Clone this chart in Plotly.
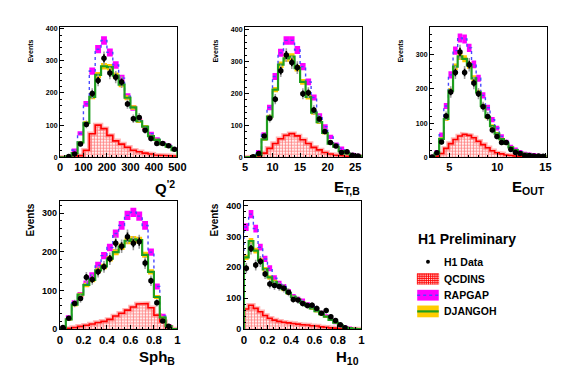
import numpy as np
import plotly.graph_objects as go

W, H = 567, 384
FONT = "Liberation Sans, Arial, Helvetica, sans-serif"

# ---------------- data ----------------
# Q'^2
q2_edges = np.arange(0, 525, 25)
q2_data    = [0, 2, 10, 41, 102, 198, 239, 308, 262, 249, 234, 166, 120, 124, 84, 58, 43, 43, 36, 25]
q2_djangoh = [0, 3, 13, 46, 107, 188, 256, 283, 280, 254, 226, 185, 155, 112, 95, 66, 54, 41, 33, 22]
q2_rapgap  = [0, 2, 22, 74, 166, 268, 336, 363, 326, 287, 246, 190, 153, 114, 92, 73, 56, 43, 36, 25]
q2_qcdins  = [0, 0, 1, 5, 22, 73, 100, 89, 68, 51, 41, 31, 22, 17, 13, 10, 7, 6, 5, 4]

# E_T,B
etb_edges = np.arange(5, 27, 1)
etb_data    = [0, 2, 12, 67, 122, 182, 271, 320, 297, 281, 199, 202, 148, 120, 81, 46, 35, 15, 17, 6, 4]
etb_djangoh = [0, 2, 7, 56, 127, 212, 290, 310, 315, 279, 236, 189, 140, 110, 76, 43, 33, 19, 12, 7, 5]
etb_rapgap  = [0, 2, 17, 72, 156, 253, 327, 366, 366, 336, 284, 236, 187, 130, 96, 64, 40, 28, 15, 9, 6]
etb_qcdins  = [0, 0, 2, 13, 28, 43, 58, 69, 74, 67, 55, 43, 31, 23, 15, 10, 7, 5, 4, 3, 2]

# E_OUT
eout_edges = np.linspace(3, 15, 26)
eout_data    = [1, 13, 45, 121, 191, 248, 308, 248, 271, 217, 186, 148, 119, 80, 61, 43, 43, 23, 14, 11, 5, 5, 4, 4, 3]
eout_djangoh = [2, 11, 54, 112, 195, 265, 295, 288, 269, 231, 190, 150, 117, 91, 69, 53, 40, 29, 21, 14, 10, 8, 6, 5, 4]
eout_rapgap  = [2, 16, 66, 150, 241, 312, 349, 346, 320, 272, 231, 181, 145, 110, 85, 61, 45, 31, 23, 16, 11, 9, 7, 5, 4]
eout_qcdins  = [0, 3, 11, 26, 40, 52, 62, 67, 64, 57, 47, 37, 28, 19, 13, 10, 7, 5, 4, 3, 2, 2, 1, 1, 1]

# Sph_B
sph_edges = np.linspace(0, 1, 21)
sph_data    = [4, 28, 66, 79, 134, 128, 148, 161, 182, 222, 214, 239, 222, 226, 171, 125, 68, 21, 7, 0]
sph_djangoh = [2, 25, 63, 89, 114, 127, 152, 162, 182, 199, 213, 228, 232, 230, 192, 148, 83, 30, 8, 0]
sph_rapgap  = [2, 30, 68, 89, 118, 139, 165, 190, 211, 247, 268, 294, 302, 292, 268, 199, 110, 34, 8, 0]
sph_qcdins  = [0, 2, 4, 7, 10, 13, 17, 20, 25, 34, 41, 49, 57, 65, 66, 55, 36, 19, 4, 0]

# H_10
h10_edges = np.linspace(0, 1, 26)
h10_data    = [197, 261, 207, 219, 178, 146, 141, 138, 132, 119, 96, 94, 83, 76, 77, 67, 51, 60, 40, 28, 14, 4, 0, 0, 0]
h10_djangoh = [232, 285, 254, 222, 193, 167, 153, 140, 129, 116, 104, 95, 85, 76, 67, 58, 48, 40, 30, 21, 13, 6, 3, 1, 0]
h10_rapgap  = [330, 372, 325, 265, 227, 197, 165, 148, 138, 122, 106, 97, 92, 81, 74, 63, 53, 42, 32, 21, 13, 7, 3, 1, 0]
h10_qcdins  = [65, 77, 67, 56, 44, 35, 29, 25, 22, 20, 18, 16, 14, 13, 11, 10, 7, 6, 4, 3, 2, 1, 0, 0, 0]

legend_labels = ["H1 Data", "QCDINS", "RAPGAP", "DJANGOH"]

# ---------------- styling / layout ----------------
panels = [
    dict(edges=q2_edges, data=q2_data, dj=q2_djangoh, rg=q2_rapgap, qi=q2_qcdins,
         box=(50, 170, 17, 150), xr=[0, 500], yr=[0, 406], xt0=0, xdt=100, xmdt=20,
         title="Q<sup>'2</sup>", row=1),
    dict(edges=etb_edges, data=etb_data, dj=etb_djangoh, rg=etb_rapgap, qi=etb_qcdins,
         box=(239, 359, 17, 150), xr=[5, 26.3], yr=[0, 409], xt0=5, xdt=5, xmdt=1,
         title="E<sub>T,B</sub>", row=1),
    dict(edges=eout_edges, data=eout_data, dj=eout_djangoh, rg=eout_rapgap, qi=eout_qcdins,
         box=(428, 548, 17, 150), xr=[3, 15.2], yr=[0, 382], xt0=5, xdt=5, xmdt=1,
         title="E<sub>OUT</sub>", row=1),
    dict(edges=sph_edges, data=sph_data, dj=sph_djangoh, rg=sph_rapgap, qi=sph_qcdins,
         box=(50, 170, 195, 325), xr=[0, 1], yr=[0, 330], xt0=0, xdt=0.2, xmdt=0.05,
         title="Sph<sub>B</sub>", row=2),
    dict(edges=h10_edges, data=h10_data, dj=h10_djangoh, rg=h10_rapgap, qi=h10_qcdins,
         box=(238, 358, 195, 325), xr=[0, 1], yr=[0, 413], xt0=0, xdt=0.2, xmdt=0.05,
         title="H<sub>10</sub>", row=2),
]

MAGENTA = "#ff00ff"
YELLOW = "#ffcc00"
GREEN = "#1e9e1e"
BLUE = "#4848ff"
RED = "#ff0000"


def fx(p):
    return p / W


def fy(p):
    return 1 - p / H


def step_xy(edges, vals):
    xs, ys = [float(edges[0])], [0.0]
    for i, v in enumerate(vals):
        xs += [float(edges[i]), float(edges[i + 1])]
        ys += [v, v]
    xs.append(float(edges[-1]))
    ys.append(0.0)
    return xs, ys


fig = go.Figure()
layout = dict(
    width=W, height=H, margin=dict(l=0, r=0, t=0, b=0),
    paper_bgcolor="white", plot_bgcolor="white", showlegend=False,
    barmode="overlay", font=dict(family=FONT, color="black"),
)
annotations = []

for i, p in enumerate(panels, start=1):
    xa = "x" if i == 1 else f"x{i}"
    ya = "y" if i == 1 else f"y{i}"
    edges = np.asarray(p["edges"], dtype=float)
    centers = (edges[:-1] + edges[1:]) / 2
    bw = float(edges[1] - edges[0])
    data = np.asarray(p["data"], dtype=float)
    dj = np.asarray(p["dj"], dtype=float)
    rg = np.asarray(p["rg"], dtype=float)
    qi = np.asarray(p["qi"], dtype=float)

    # QCDINS hatched histogram
    fig.add_trace(go.Bar(
        x=centers, y=qi, width=bw, xaxis=xa, yaxis=ya,
        marker=dict(color="rgba(0,0,0,0)", line=dict(width=0),
                    pattern=dict(shape="+", fgcolor=RED, bgcolor="rgba(255,238,238,1)",
                                 size=3.0, solidity=0.42)),
        hoverinfo="skip"))

    # RAPGAP band
    mk = rg > 0
    rh = 5 + 0.023 * rg[mk]
    fig.add_trace(go.Bar(
        x=centers[mk], y=2 * rh, base=rg[mk] - rh, width=bw, xaxis=xa, yaxis=ya,
        marker=dict(color=MAGENTA, line=dict(width=0)), hoverinfo="skip"))
    sx, sy = step_xy(edges, rg)
    fig.add_trace(go.Scatter(x=sx, y=sy, mode="lines", xaxis=xa, yaxis=ya,
                             line=dict(color=BLUE, dash="dot", width=1.4), hoverinfo="skip"))

    # DJANGOH band
    mk = dj > 0
    dh = 3 + 0.025 * dj[mk]
    fig.add_trace(go.Bar(
        x=centers[mk], y=2 * dh, base=dj[mk] - dh, width=bw, xaxis=xa, yaxis=ya,
        marker=dict(color=YELLOW, line=dict(width=0)), hoverinfo="skip"))

    # QCDINS outline
    sx, sy = step_xy(edges, qi)
    fig.add_trace(go.Scatter(x=sx, y=sy, mode="lines", xaxis=xa, yaxis=ya,
                             line=dict(color="rgba(255,110,110,0.5)", width=4.5), hoverinfo="skip"))
    fig.add_trace(go.Scatter(x=sx, y=sy, mode="lines", xaxis=xa, yaxis=ya,
                             line=dict(color=RED, width=1.6), hoverinfo="skip"))

    # DJANGOH line
    sx, sy = step_xy(edges, dj)
    fig.add_trace(go.Scatter(x=sx, y=sy, mode="lines", xaxis=xa, yaxis=ya,
                             line=dict(color=GREEN, width=2.2), hoverinfo="skip"))

    # Data
    mk = data > 0
    err = np.sqrt(data[mk])
    fig.add_trace(go.Scatter(
        x=centers[mk], y=data[mk], mode="markers", xaxis=xa, yaxis=ya,
        marker=dict(size=0.1, color="rgba(0,0,0,0)"),
        error_y=dict(type="data", array=1.2 * err, color="#a0a0a0", thickness=1.6, width=0),
        hoverinfo="skip"))
    fig.add_trace(go.Scatter(
        x=centers[mk], y=data[mk], mode="markers", xaxis=xa, yaxis=ya,
        marker=dict(size=5.5, color="black"),
        error_y=dict(type="data", array=0.7 * err, color="black", thickness=1.6, width=0),
        hoverinfo="skip"))

    x0, x1, y0, y1 = p["box"]
    row = p["row"]
    xfs = 11 if row == 1 else 11.5
    yfs = 7 if row == 1 else 9
    common = dict(showline=True, linecolor="black", linewidth=1, mirror=True,
                  showgrid=False, zeroline=False, ticks="inside", ticklen=4,
                  tickcolor="black", tickwidth=1)
    layout["xaxis" if i == 1 else f"xaxis{i}"] = dict(
        domain=[fx(x0), fx(x1)], range=p["xr"], anchor=ya,
        tickmode="linear", tick0=p["xt0"], dtick=p["xdt"],
        tickfont=dict(family=FONT, size=xfs, weight="bold"),
        minor=dict(ticks="inside", ticklen=2, tickcolor="black", dtick=p["xmdt"], tick0=p["xt0"]),
        **common)
    layout["yaxis" if i == 1 else f"yaxis{i}"] = dict(
        domain=[fy(y1), fy(y0)], range=p["yr"], anchor=xa,
        tickmode="linear", tick0=0, dtick=100,
        tickfont=dict(family=FONT, size=yfs, weight="bold"),
        minor=dict(ticks="inside", ticklen=2, tickcolor="black", dtick=20),
        **common)

    # x title (right-aligned under the axis)
    annotations.append(dict(
        text=p["title"], xref="paper", yref="paper", x=fx(x1), y=fy(y1 + (31 if row == 1 else 28.5)),
        xanchor="right", yanchor="middle", showarrow=False,
        font=dict(family=FONT, size=15, weight="bold")))
    # y title
    annotations.append(dict(
        text="Events", xref="paper", yref="paper",
        x=fx(x0 - 30), y=fy(y0 + (11 if row == 1 else 0)),
        xanchor="center", yanchor="top", textangle=-90, showarrow=False,
        font=dict(family=FONT, size=(7 if row == 1 else 10), weight="bold")))

# ---------------- legend ----------------
annotations.append(dict(text="H1 Preliminary", xref="paper", yref="paper",
                        x=fx(414), y=fy(233), xanchor="left", yanchor="middle",
                        showarrow=False, font=dict(family=FONT, size=14, weight="bold")))
leg_y = [256.5, 274, 290.5, 307]
for lab, yy in zip(legend_labels, leg_y):
    annotations.append(dict(text=lab, xref="paper", yref="paper", x=fx(440), y=fy(yy),
                            xanchor="left", yanchor="middle", showarrow=False,
                            font=dict(family=FONT, size=10.5, weight="bold")))

shapes = []
# data dot
shapes.append(dict(type="circle", xref="paper", yref="paper",
                   x0=fx(424), x1=fx(428), y0=fy(258.5), y1=fy(254.5),
                   fillcolor="black", line=dict(width=0)))
# QCDINS hatch glyph
shapes.append(dict(type="rect", xref="paper", yref="paper",
                   x0=fx(415), x1=fx(437), y0=fy(279.5), y1=fy(268.5),
                   fillcolor="rgba(255,225,225,1)", line=dict(color="rgba(255,110,110,0.7)", width=1)))
path = ""
gx = 415.5
while gx <= 437:
    path += f"M{fx(gx)},{fy(268.5)}L{fx(gx)},{fy(279.5)}"
    gx += 2.2
gy = 269
while gy <= 279.5:
    path += f"M{fx(415)},{fy(gy)}L{fx(437)},{fy(gy)}"
    gy += 2.2
shapes.append(dict(type="path", xref="paper", yref="paper", path=path,
                   line=dict(color=RED, width=0.9)))
# RAPGAP glyph
shapes.append(dict(type="rect", xref="paper", yref="paper",
                   x0=fx(415), x1=fx(437), y0=fy(296), y1=fy(285),
                   fillcolor=MAGENTA, line=dict(width=0)))
shapes.append(dict(type="line", xref="paper", yref="paper",
                   x0=fx(415), x1=fx(437), y0=fy(290.5), y1=fy(290.5),
                   line=dict(color=BLUE, width=1.4, dash="dot")))
# DJANGOH glyph
shapes.append(dict(type="rect", xref="paper", yref="paper",
                   x0=fx(415), x1=fx(437), y0=fy(313), y1=fy(301),
                   fillcolor=YELLOW, line=dict(width=0)))
shapes.append(dict(type="line", xref="paper", yref="paper",
                   x0=fx(415), x1=fx(437), y0=fy(307), y1=fy(307),
                   line=dict(color=GREEN, width=2.2)))

layout["annotations"] = annotations
layout["shapes"] = shapes
fig.update_layout(**layout)
fig.write_html("out.html")
